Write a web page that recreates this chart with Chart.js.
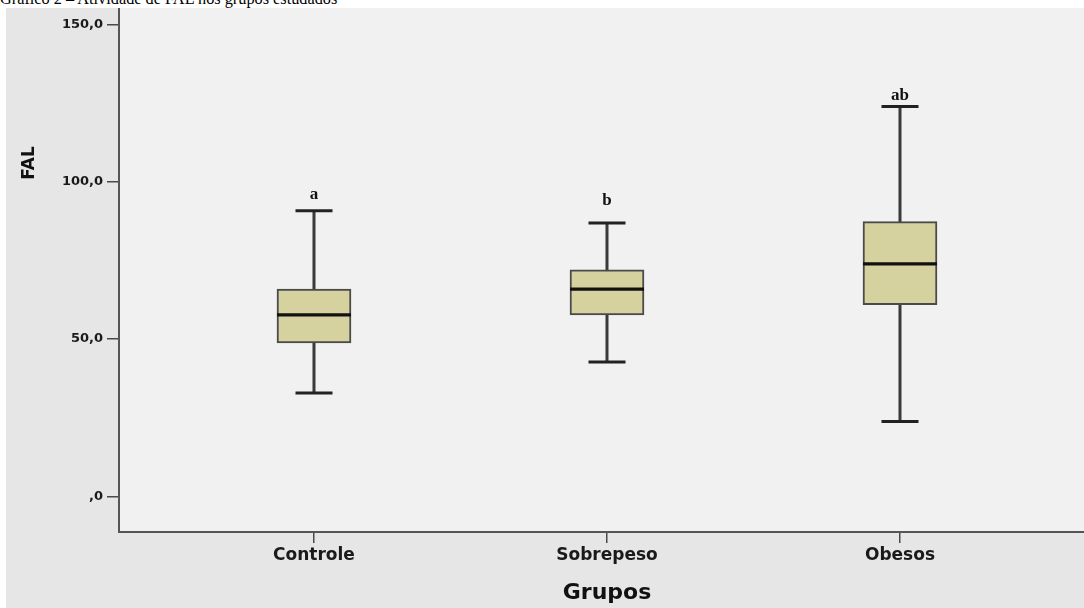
<!DOCTYPE html>
<html lang="pt">
<head>
<meta charset="utf-8">
<title>Atividade de FAL nos grupos estudados</title>
<script src="https://cdn.jsdelivr.net/npm/chart.js@4/dist/chart.umd.min.js"></script>
<style>
  html, body { margin: 0; padding: 0; background: #ffffff; }
  body { width: 1084px; height: 608px; overflow: hidden; position: relative; }
  #caption {
    position: absolute; left: 0; top: -9px;
    font: 16.3px "Liberation Serif", "Times New Roman", serif;
    line-height: 16px; color: #000; white-space: nowrap;
  }
  #panel {
    position: absolute; left: 6px; top: 8px;
    width: 1078px; height: 600px; background: #e6e6e6;
  }
  #panel canvas { display: block; }
</style>
</head>
<body>
<div id="caption">Gráfico 2 – Atividade de FAL nos grupos estudados</div>
<div id="panel"><canvas id="chart" width="1078" height="600"></canvas></div>
<script>
// Groups on the horizontal axis
const categories = ['Controle', 'Sobrepeso', 'Obesos'];
const groupPositions = [1, 2, 3];

// Box-plot statistics of FAL per group
const whiskerLow  = [32.9, 42.7, 23.8];
const quartile1   = [48.8, 57.7, 60.9];
const medians     = [57.7, 65.9, 73.9];
const quartile3   = [65.9, 72.0, 87.3];
const whiskerHigh = [90.8, 86.9, 123.9];

// Significance letters shown above each group
const groupLetters = ['a', 'b', 'ab'];

// Vertical axis ticks
const yTickValues = [0, 50, 100, 150];
const yTickLabels = [',0', '50,0', '100,0', '150,0'];

// Whisker stems: one segment per group, separated by gaps
const whiskerStems = [];
groupPositions.forEach((x, i) => {
  whiskerStems.push({ x, y: whiskerLow[i] }, { x, y: whiskerHigh[i] }, { x, y: null });
});
const whiskerCaps = [];
groupPositions.forEach((x, i) => {
  whiskerCaps.push({ x, y: whiskerLow[i] }, { x, y: whiskerHigh[i] });
});
const boxes = groupPositions.map((x, i) => ({ x, y: [quartile1[i], quartile3[i]] }));
const medianMarks = groupPositions.map((x, i) => ({ x, y: medians[i] }));

const AXIS_FONT = 'DejaVu Sans';

// Light fill behind the plotting region
const plotBackground = {
  id: 'plotBackground',
  beforeDraw(chart) {
    const { ctx, chartArea: a } = chart;
    ctx.save();
    ctx.fillStyle = '#f1f1f1';
    ctx.fillRect(a.left, a.top, a.right - a.left, a.bottom - a.top);
    ctx.restore();
  }
};

// Letters above the upper whiskers
const letterPlugin = {
  id: 'groupLetters',
  afterDatasetsDraw(chart, args, opts) {
    const { ctx, scales: { x, y } } = chart;
    ctx.save();
    ctx.font = opts.font;
    ctx.fillStyle = opts.color;
    ctx.textAlign = 'center';
    ctx.textBaseline = 'alphabetic';
    groupLetters.forEach((t, i) => {
      ctx.fillText(t, x.getPixelForValue(groupPositions[i]),
                   y.getPixelForValue(whiskerHigh[i]) - opts.gaps[i]);
    });
    ctx.restore();
  }
};

// Axis titles
const axisTitles = {
  id: 'axisTitles',
  afterDraw(chart, args, opts) {
    const { ctx } = chart;
    ctx.save();
    ctx.fillStyle = '#111';
    ctx.textAlign = 'center';
    ctx.textBaseline = 'middle';
    ctx.font = opts.yFont;
    ctx.translate(opts.yAt[0], opts.yAt[1]);
    ctx.rotate(-Math.PI / 2);
    ctx.fillText(opts.yText, 0, 0);
    ctx.restore();
    ctx.save();
    ctx.fillStyle = '#111';
    ctx.textAlign = 'center';
    ctx.textBaseline = 'middle';
    ctx.font = opts.xFont;
    ctx.fillText(opts.xText, opts.xAt[0], opts.xAt[1]);
    ctx.restore();
  }
};

new Chart(document.getElementById('chart'), {
  type: 'bar',
  data: {
    datasets: [
      {
        type: 'line',
        data: whiskerStems,
        borderColor: '#3a3a3a',
        borderWidth: 3,
        pointRadius: 0,
        spanGaps: false,
        order: 3
      },
      {
        type: 'bar',
        data: boxes,
        backgroundColor: '#d6d2a0',
        borderColor: '#4a4a4a',
        borderWidth: 2,
        borderSkipped: false,
        barThickness: 74,
        grouped: false,
        order: 2
      },
      {
        type: 'scatter',
        data: whiskerCaps,
        pointStyle: 'line',
        pointRadius: 18.5,
        borderColor: '#222',
        borderWidth: 3,
        order: 1
      },
      {
        type: 'scatter',
        data: medianMarks,
        pointStyle: 'line',
        pointRadius: 37,
        borderColor: '#111',
        borderWidth: 3.2,
        order: 0
      }
    ]
  },
  options: {
    responsive: false,
    animation: false,
    events: [],
    devicePixelRatio: 1,
    layout: { padding: 0, autoPadding: false },
    plugins: {
      legend: { display: false },
      tooltip: { enabled: false },
      groupLetters: { font: 'bold 17px "Liberation Serif"', color: '#111', gaps: [12, 18, 7] },
      axisTitles: {
        yText: 'FAL', yFont: `bold 17px "${AXIS_FONT}"`, yAt: [24, 155],
        xText: 'Grupos', xFont: `bold 22px "${AXIS_FONT}"`, xAt: [601, 585]
      }
    },
    scales: {
      x: {
        type: 'linear',
        min: 0.3345,
        max: 3.628,
        offset: false,
        afterFit(scale) {
          scale.height = 76;
          scale.paddingLeft = 0; scale.paddingRight = 0;
        },
        afterBuildTicks(scale) {
          scale.ticks = groupPositions.map(v => ({ value: v }));
        },
        ticks: {
          autoSkip: false,
          maxRotation: 0,
          padding: 2,
          color: '#1a1a1a',
          font: { family: AXIS_FONT, size: 17, weight: 'bold' },
          callback: v => categories[groupPositions.indexOf(v)]
        },
        grid: {
          offset: false,
          drawOnChartArea: false,
          drawTicks: true,
          tickLength: 11,
          color: '#4a4a4a',
          lineWidth: 1.5
        },
        border: { display: true, color: '#555', width: 2 }
      },
      y: {
        type: 'linear',
        position: 'left',
        min: -11.3,
        max: 155.2,
        afterFit(scale) {
          scale.width = 113;
          scale.paddingTop = 0; scale.paddingBottom = 0;
        },
        afterBuildTicks(scale) {
          scale.ticks = yTickValues.map(v => ({ value: v }));
        },
        ticks: {
          padding: 4,
          color: '#1a1a1a',
          font: { family: AXIS_FONT, size: 13, weight: 'bold' },
          callback: v => yTickLabels[yTickValues.indexOf(v)]
        },
        grid: {
          drawOnChartArea: false,
          drawTicks: true,
          tickLength: 12,
          color: '#4a4a4a',
          lineWidth: 1.5
        },
        border: { display: true, color: '#555', width: 2 }
      }
    }
  },
  plugins: [plotBackground, letterPlugin, axisTitles]
});
</script>
</body>
</html>
